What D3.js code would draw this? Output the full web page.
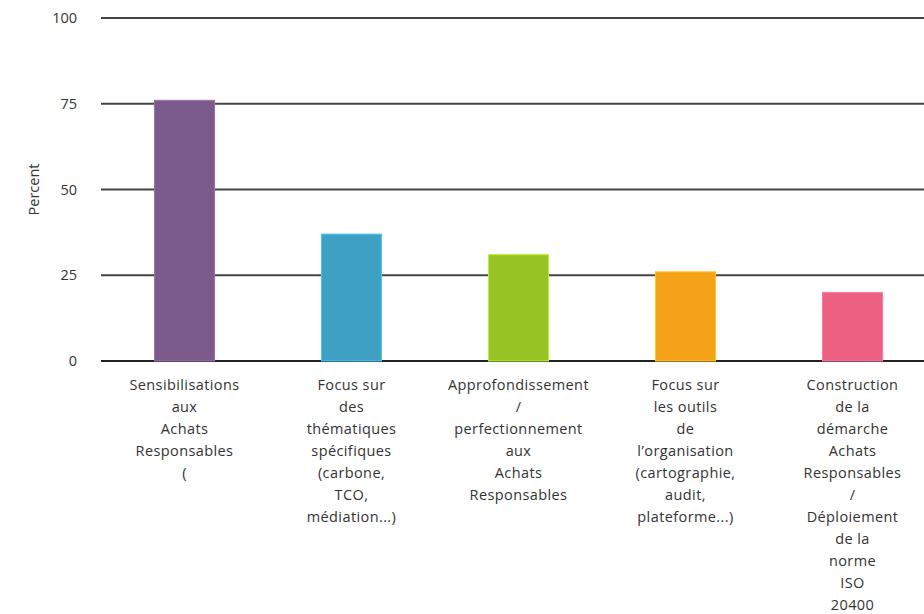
<!DOCTYPE html>
<html><head><meta charset="utf-8">
<script src="https://cdn.jsdelivr.net/npm/d3@7"></script>
<style>html,body{margin:0;padding:0;background:#fff;}svg{display:block;}</style>
</head><body>
<svg id="c" width="924" height="614"></svg>
<script>
const categories = [
  ["Sensibilisations","aux","Achats","Responsables","("],
  ["Focus sur","des","thématiques","spécifiques","(carbone,","TCO,","médiation...)"],
  ["Approfondissement","/","perfectionnement","aux","Achats","Responsables"],
  ["Focus sur","les outils","de","l’organisation","(cartographie,","audit,","plateforme...)"],
  ["Construction","de la","démarche","Achats","Responsables","/","Déploiement","de la","norme","ISO","20400"]
];
const values = [76, 37, 31, 26, 20];
const colors = ["#7b5b8c", "#3ea1c4", "#97c424", "#f4a218", "#ec6182"];
const yTicks = [0, 25, 50, 75, 100];
const yLabel = "Percent";

const svg = d3.select("#c");
const font = "'Open Sans', Lato, sans-serif";
const x = d3.scaleBand().domain(d3.range(values.length)).range([101, 936]).paddingInner(0.64).paddingOuter(0.32);
const y = d3.scaleLinear().domain([0, 100]).range([361, 18]);

// grid
svg.append("g").selectAll("line").data(yTicks).join("line")
  .attr("x1", 101).attr("x2", 936)
  .attr("y1", d => y(d)).attr("y2", d => y(d))
  .attr("stroke", d => d === 0 ? "#222" : "#444").attr("stroke-width", 2.2);

// y tick labels
svg.append("g").selectAll("text").data(yTicks).join("text")
  .attr("x", 77).attr("y", d => y(d)).attr("dy", "0.36em")
  .attr("text-anchor", "end").attr("font-family", font).attr("font-size", 14.5)
  .attr("fill", "#333").text(d => d);

svg.append("text").attr("transform", `translate(39,${y(50)}) rotate(-90)`)
  .attr("text-anchor", "middle").attr("font-family", font).attr("font-size", 14.5)
  .attr("fill", "#333").text(yLabel);

// bars
svg.append("g").selectAll("rect").data(values).join("rect")
  .attr("x", (d, i) => x(i)).attr("width", x.bandwidth())
  .attr("y", d => y(d)).attr("height", d => y(0) - y(d))
  .attr("fill", (d, i) => colors[i])
  .attr("stroke", (d, i) => d3.color(colors[i]).brighter(0.6)).attr("stroke-width", 1);

// category labels
const lab = svg.append("g").selectAll("text").data(categories).join("text")
  .attr("text-anchor", "middle").attr("font-family", font).attr("font-size", 14.5)
  .attr("letter-spacing", 0.4).attr("fill", "#333");
lab.each(function(lines, i) {
  d3.select(this).selectAll("tspan").data(lines).join("tspan")
    .attr("x", x(i) + x.bandwidth() / 2)
    .attr("y", (d, j) => 390 + j * 22)
    .text(d => d);
});
</script>
</body></html>
